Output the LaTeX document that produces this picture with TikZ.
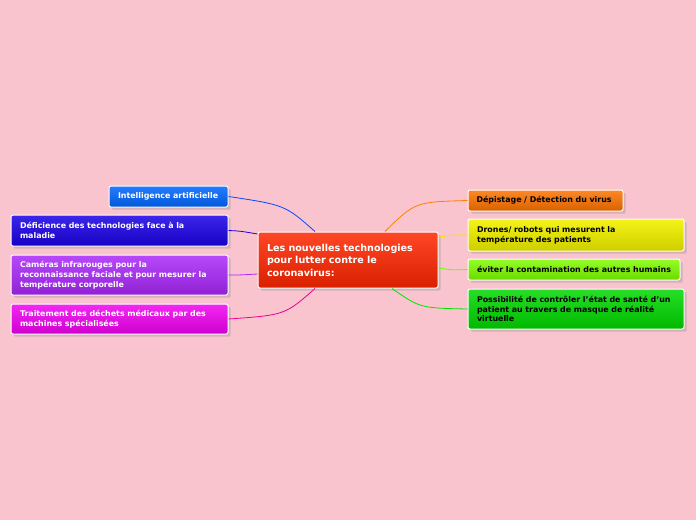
\documentclass[tikz,border=0pt]{standalone}
\usepackage{fontspec}
\setmainfont{DejaVu Sans}
\usetikzlibrary{shadows}
\hyphenpenalty=10000
\exhyphenpenalty=10000
\definecolor{camcol}{RGB}{170,40,250}
\begin{document}
\begin{tikzpicture}[x=1pt,y=-1pt]

% definitions
\tikzstyle{topic} = [rectangle, rounded corners=2pt, draw=white, line width=1pt, top color=#1!85!white, bottom color=#1!85!black, drop shadow={opacity=0.3}, inner sep=0pt, align=left, font=\fontsize{7.9}{9.8}\selectfont\bfseries]
\tikzstyle{link} = [line width=0.8pt]

\fill[fill={rgb,255:red,249;green,196;blue,206}] (0,0) rectangle (696,520);

% the center
\node (c) [topic=red!70!orange, minimum width=180pt, minimum height=56pt, text=white, font=\fontsize{9.6}{12.5}\selectfont\bfseries, text width=162pt] at (348,260) {Les nouvelles technologies\\pour lutter contre le\\coronavirus:};

% left side
\node (l1) [topic=blue!60!cyan, minimum width=119pt, minimum height=21pt, text=white, text width=101pt] at (168.5,196.5) {Intelligence artificielle};
\node (l2) [topic=blue!80!violet, minimum width=217pt, minimum height=31pt, text=white, text width=199pt] at (119.5,230.5) {Déficience des technologies face à la\\maladie};
\node (l3) [topic=camcol, minimum width=217pt, minimum height=40pt, text=white, text width=199pt] at (119.5,275) {Caméras infrarouges pour la\\reconnaissance faciale et pour mesurer la\\température corporelle};
\node (l4) [topic=magenta!90!violet, minimum width=217pt, minimum height=30pt, text=white, text width=199pt] at (119.5,319) {Traitement des déchets médicaux par des\\machines spécialisées};

% right side
\node (r1) [topic=orange!90!red, minimum width=155pt, minimum height=21pt, text=black, text width=138pt] at (545.5,200.5) {Dépistage / Détection du virus};
\node (r2) [topic=yellow!90!olive, minimum width=216pt, minimum height=32pt, text=black, text width=198pt] at (576,235) {Drones/ robots qui mesurent la\\température des patients};
\node (r3) [topic=green!50!yellow, minimum width=212pt, minimum height=21pt, text=black, text width=194pt] at (574,269.5) {éviter la contamination des autres humains};
\node (r4) [topic=green!85!black, minimum width=216pt, minimum height=40pt, text=black, text width=198pt] at (576,309) {Possibilité de contrôler l'état de santé d'un\\patient au travers de masque de réalité\\virtuelle};

\draw [link, blue!70!cyan] ([xshift=-33pt]c.north) .. controls (285,205) .. (l1.east);
\draw [link, blue!80!violet] ([yshift=26pt]c.west) .. controls (240,231) .. (l2.east);
\draw [link, camcol] ([yshift=-14pt]c.west) .. controls (240,275) .. (l3.east);
\draw [link, magenta] ([xshift=-33pt]c.south) .. controls (285,315) .. (l4.east);
\draw [link, orange] ([xshift=37pt]c.north) .. controls (415,202) .. (r1.west);
\draw [link, yellow!90!olive] ([yshift=23pt]c.east) .. controls (452,235) .. (r2.west);
\draw [link, green!60!yellow] ([yshift=-8pt]c.east) .. controls (452,270) .. (r3.west);
\draw [link, green!90!black] ([xshift=44pt]c.south) .. controls (420,308) .. (r4.west);

\end{tikzpicture}
\end{document}
